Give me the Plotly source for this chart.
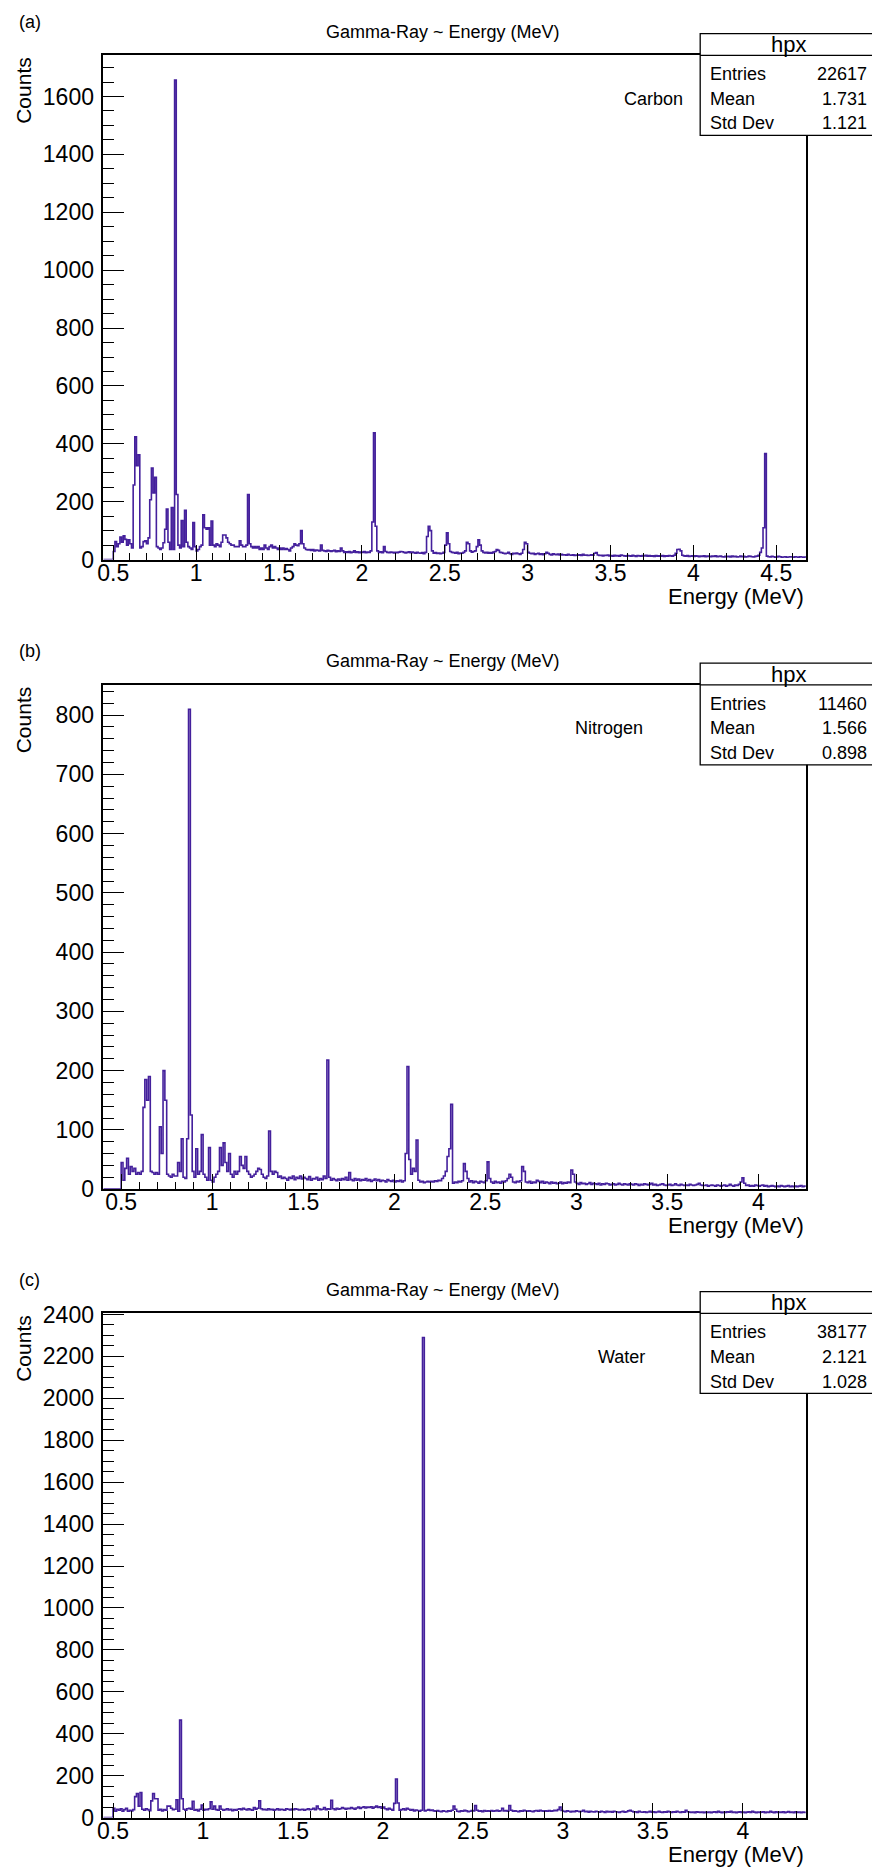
import numpy as np
import plotly.graph_objects as go

# ---------------------------------------------------------------------------
# Gamma-ray spectra, counts per 0.01 MeV bin, first bin starts at 0.50 MeV
# ---------------------------------------------------------------------------
BIN_WIDTH = 0.01
FIRST_EDGE = 0.50

carbon_counts = [
    28, 62, 45, 55, 78, 60, 82, 70, 50, 68,          # 0.50
    55, 40, 258, 424, 324, 362, 40, 45, 62, 65,      # 0.60
    55, 75, 207, 316, 230, 284, 45, 40, 35, 40,      # 0.70
    58, 105, 175, 60, 35, 180, 35, 1657, 225, 50,    # 0.80
    40, 135, 45, 170, 60, 45, 40, 35, 128, 45,       # 0.90
    30, 35, 45, 50, 155, 110, 105, 110, 50, 133,     # 1.00
    50, 45, 55, 50, 45, 60, 85, 85, 75, 60,          # 1.10
    55, 50, 50, 45, 45, 45, 65, 50, 45, 45,          # 1.20
    50, 225, 55, 45, 40, 45, 40, 45, 35, 40,         # 1.30
    35, 50, 40, 35, 45, 50, 40, 45, 40, 35,          # 1.40
    40, 35, 40, 35, 38, 35, 30, 40, 45, 55,          # 1.50
    50, 48, 55, 100, 55, 40, 35, 33, 35, 32,         # 1.60
    35, 30, 33, 32, 30, 50, 32, 30, 28, 32,          # 1.70
    30, 28, 30, 32, 27, 30, 28, 40, 30, 25,          # 1.80
    27, 25, 28, 24, 26, 30, 25, 27, 24, 26,          # 1.90
    25, 28, 24, 26, 25, 30, 130, 438, 115, 30,       # 2.00
    25, 27, 24, 45, 28, 25, 24, 26, 25, 23,          # 2.10
    25, 24, 26, 28, 27, 25, 23, 25, 27, 24,          # 2.20
    26, 24, 22, 25, 23, 22, 24, 20, 25, 80,          # 2.30
    115, 100, 30, 22, 24, 21, 23, 20, 22, 25,        # 2.40
    50, 93, 55, 28, 25, 24, 22, 25, 20, 23,          # 2.50
    22, 25, 30, 60, 55, 30, 26, 28, 30, 45,          # 2.60
    68, 50, 30, 25, 23, 25, 22, 24, 22, 26,          # 2.70
    28, 35, 32, 25, 24, 22, 20, 22, 25, 20,          # 2.80
    18, 22, 20, 23, 20, 18, 22, 35, 60, 55,          # 2.90
    25, 22, 20, 22, 18, 20, 22, 18, 20, 17,          # 3.00
    20, 25, 22, 18, 16, 20, 18, 17, 19, 16,          # 3.10
    18, 16, 17, 15, 18, 16, 15, 17, 14, 16,          # 3.20
    15, 17, 14, 18, 15, 16, 14, 15, 17, 15,          # 3.30
    22, 24, 16, 14, 15, 13, 15, 14, 16, 13,          # 3.40
    14, 12, 15, 13, 14, 12, 16, 14, 13, 12,          # 3.50
    14, 13, 12, 15, 13, 11, 14, 13, 12, 14,          # 3.60
    13, 15, 12, 14, 12, 13, 11, 14, 12, 13,          # 3.70
    12, 14, 11, 13, 12, 14, 13, 12, 15, 22,          # 3.80
    35, 36, 30, 15, 13, 12, 14, 11, 12, 13,          # 3.90
    11, 13, 12, 10, 12, 11, 13, 10, 12, 11,          # 4.00
    10, 12, 11, 13, 10, 11, 12, 10, 9, 11,           # 4.10
    10, 11, 9, 12, 10, 11, 9, 10, 12, 10,            # 4.20
    11, 9, 10, 12, 11, 10, 9, 11, 12, 15,            # 4.30
    25, 40, 110, 366, 12, 10, 9, 11, 10, 8,          # 4.40
    9, 11, 10, 8, 9, 10, 8, 9, 10, 9,                # 4.50
    8, 10, 9, 8, 10, 9, 8, 9,                        # 4.60
]

nitrogen_counts = [
    45, 15, 35, 52, 25, 38, 30, 35, 25, 28,          # 0.50
    25, 30, 138, 185, 150, 190, 30, 28, 25, 28,      # 0.60
    25, 105, 60, 200, 150, 25, 22, 20, 25, 22,       # 0.70
    22, 45, 30, 85, 20, 18, 85, 810, 125, 30,        # 0.80
    20, 68, 25, 30, 92, 25, 20, 15, 70, 15,          # 0.90
    12, 20, 25, 30, 70, 40, 78, 45, 30, 60,          # 1.00
    25, 20, 30, 25, 30, 55, 40, 35, 55, 30,          # 1.10
    25, 20, 22, 25, 30, 35, 33, 25, 20, 18,          # 1.20
    22, 98, 30, 25, 30, 28, 20, 22, 18, 20,          # 1.30
    18, 15, 20, 18, 22, 16, 20, 18, 22, 17,          # 1.40
    20, 18, 16, 21, 15, 18, 17, 20, 15, 18,          # 1.50
    16, 22, 18, 218, 20, 15, 18, 16, 14, 17,         # 1.60
    15, 18, 16, 20, 15, 28, 16, 14, 18, 15,          # 1.70
    17, 14, 16, 15, 18, 14, 16, 13, 15, 17,          # 1.80
    14, 16, 13, 15, 14, 12, 16, 14, 13, 15,          # 1.90
    12, 14, 13, 15, 12, 14, 60, 207, 50, 25,         # 2.00
    35, 30, 83, 15, 12, 13, 11, 12, 13, 12,          # 2.10
    13, 12, 14, 13, 15, 14, 18, 22, 30, 55,          # 2.20
    68, 143, 10, 12, 11, 13, 12, 14, 43, 30,         # 2.30
    18, 12, 14, 11, 13, 12, 10, 13, 12, 11,          # 2.40
    14, 46, 18, 12, 10, 13, 11, 12, 10, 13,          # 2.50
    12, 14, 18, 25, 20, 12, 11, 13, 12, 14,          # 2.60
    38, 30, 12, 11, 13, 10, 12, 11, 15, 13,          # 2.70
    11, 13, 10, 12, 11, 9, 12, 10, 11, 9,            # 2.80
    10, 12, 9, 11, 10, 12, 11, 32, 25, 12,           # 2.90
    10, 8, 11, 9, 10, 8, 9, 11, 8, 10,               # 3.00
    9, 8, 10, 7, 9, 8, 10, 9, 7, 8,                  # 3.10
    9, 7, 8, 10, 8, 7, 9, 8, 7, 9,                   # 3.20
    8, 7, 9, 8, 6, 8, 7, 9, 8, 7,                    # 3.30
    8, 10, 7, 8, 6, 7, 8, 9, 7, 6,                   # 3.40
    7, 8, 6, 7, 9, 7, 6, 8, 7, 6,                    # 3.50
    7, 6, 8, 7, 6, 7, 8, 10, 7, 6,                   # 3.60
    6, 7, 5, 6, 7, 6, 5, 7, 6, 5,                    # 3.70
    6, 7, 5, 6, 8, 6, 5, 7, 6, 8,                    # 3.80
    12, 19, 10, 6, 7, 5, 6, 5, 7, 6,                 # 3.90
    5, 6, 7, 5, 6, 4, 5, 6, 5, 4,                    # 4.00
    5, 4, 6, 5, 4, 5, 6, 4, 5, 4,                    # 4.10
    5, 4, 5, 6, 4, 5,                                # 4.20
]

water_counts = [
    45, 30, 40, 35, 42, 30, 38, 45, 30, 35,          # 0.50
    32, 38, 100, 115, 55, 120, 40, 35, 42, 38,       # 0.60
    33, 80, 115, 90, 90, 35, 40, 32, 38, 35,         # 0.70
    55, 55, 45, 38, 40, 85, 30, 465, 90, 40,         # 0.80
    35, 42, 45, 40, 78, 35, 38, 32, 40, 60,          # 0.90
    35, 40, 38, 42, 75, 40, 55, 38, 35, 55,          # 1.00
    40, 35, 38, 42, 36, 40, 33, 38, 35, 40,          # 1.10
    42, 38, 45, 40, 36, 42, 38, 35, 48, 40,          # 1.20
    45, 80, 42, 38, 40, 36, 42, 38, 40, 35,          # 1.30
    38, 42, 36, 40, 38, 35, 42, 40, 37, 41,          # 1.40
    38, 42, 40, 36, 38, 40, 35, 39, 42, 38,          # 1.50
    40, 45, 38, 55, 42, 38, 40, 48, 38, 42,          # 1.60
    40, 83, 42, 38, 45, 40, 42, 48, 44, 40,          # 1.70
    45, 42, 48, 44, 40, 46, 50, 44, 48, 52,          # 1.80
    46, 50, 48, 52, 45, 50, 55, 48, 52, 45,          # 1.90
    50, 42, 38, 45, 40, 35, 68, 184, 70, 35,         # 2.00
    38, 42, 36, 45, 40, 35, 38, 32, 36, 34,          # 2.10
    30, 35, 2290, 32, 35, 38, 34, 36, 32, 30,        # 2.20
    34, 30, 28, 32, 30, 28, 32, 30, 35, 55,          # 2.30
    40, 30, 28, 32, 30, 35, 32, 28, 30, 34,          # 2.40
    32, 58, 35, 30, 32, 28, 34, 30, 32, 30,          # 2.50
    34, 30, 32, 35, 30, 33, 45, 32, 34, 30,          # 2.60
    58, 35, 30, 32, 30, 28, 32, 30, 35, 32,          # 2.70
    30, 33, 30, 28, 32, 34, 30, 35, 32, 30,          # 2.80
    32, 30, 34, 30, 32, 35, 33, 38, 50, 34,          # 2.90
    30, 28, 32, 30, 27, 30, 28, 32, 30, 28,          # 3.00
    30, 35, 28, 30, 26, 30, 28, 27, 30, 28,          # 3.10
    26, 30, 28, 25, 30, 27, 29, 26, 30, 28,          # 3.20
    27, 25, 28, 30, 26, 28, 32, 35, 30, 27,          # 3.30
    28, 25, 30, 27, 26, 28, 25, 27, 30, 26,          # 3.40
    28, 25, 27, 30, 26, 25, 28, 26, 30, 27,          # 3.50
    25, 28, 26, 30, 27, 25, 28, 26, 35, 28,          # 3.60
    26, 25, 27, 24, 28, 26, 25, 27, 24, 26,          # 3.70
    25, 27, 24, 26, 28, 25, 30, 26, 24, 27,          # 3.80
    25, 28, 26, 30, 25, 27, 24, 26, 28, 25,          # 3.90
    27, 24, 26, 28, 25, 30, 26, 24, 27, 25,          # 4.00
    26, 28, 24, 27, 25, 30, 26, 24, 28, 25,          # 4.10
    27, 25, 28, 24, 26, 29, 25, 27, 24, 28,          # 4.20
    25, 27, 24, 26, 25,                              # 4.30
]

panel_tags = ["(a)", "(b)", "(c)"]
sample_names = ["Carbon", "Nitrogen", "Water"]
entries = ["22617", "11460", "38177"]
means = ["1.731", "1.566", "2.121"]
std_devs = ["1.121", "0.898", "1.028"]

# ---------------------------------------------------------------------------
# Page geometry (pixels)
# ---------------------------------------------------------------------------
W, H = 872, 1876
FRAME_LEFT, FRAME_RIGHT = 98, 806
FRAME_H = 511
frame_tops = [44, 682, 1319]
x_ranges = [(0.44, 4.682), (0.402, 4.264), (0.446, 4.354)]
y_ranges = [(0, 1742), (0, 851), (0, 2405)]
y_major = [200, 100, 200]
y_minor = [50, 20, 50]
name_x = [652, 607, 620]

LINE_COLOR = "#44209c"
FONT = "Liberation Sans, Arial, Helvetica, sans-serif"


def px(xpix):
    return xpix / W


def py(ypix):
    return 1 - ypix / H


spectra = [carbon_counts, nitrogen_counts, water_counts]

fig = go.Figure()
shapes = []
annotations = []

for i, counts in enumerate(spectra):
    n = len(counts)
    edges = np.round(FIRST_EDGE + BIN_WIDTH * np.arange(n + 1), 4)
    xs = [x_ranges[i][0]] + list(edges[:n]) + [edges[n]]
    ys = [0] + list(counts) + [counts[-1]]
    suffix = "" if i == 0 else str(i + 1)
    fig.add_trace(go.Scatter(
        x=xs, y=ys, mode="lines",
        line=dict(color=LINE_COLOR, width=1.6, shape="hv"),
        xaxis="x" + suffix, yaxis="y" + suffix,
        showlegend=False, hoverinfo="skip",
    ))

    top = frame_tops[i]
    bottom = top + FRAME_H
    common = dict(
        showline=True, linecolor="black", linewidth=1.5, mirror=True,
        ticks="inside", tickcolor="black", tickwidth=1.3,
        showgrid=False, zeroline=False,
        tickfont=dict(family=FONT, size=23, color="black"),
    )
    fig.update_layout(**{
        "xaxis" + suffix: dict(
            common, domain=[px(FRAME_LEFT), px(FRAME_RIGHT)],
            anchor="y" + suffix, range=list(x_ranges[i]),
            tick0=0.5, dtick=0.5, ticklen=15,
            minor=dict(ticks="inside", tick0=0.5, dtick=0.1, ticklen=7,
                       tickcolor="black", tickwidth=1.2),
            ticklabelstandoff=-8,
        ),
        "yaxis" + suffix: dict(
            common, domain=[py(bottom), py(top)],
            anchor="x" + suffix, range=list(y_ranges[i]),
            tick0=0, dtick=y_major[i], ticklen=21,
            minor=dict(ticks="inside", tick0=0, dtick=y_minor[i], ticklen=11,
                       tickcolor="black", tickwidth=1.2),
            ticklabelstandoff=3,
        ),
    })

    # statistics box
    box_left, box_right = 699, 880
    shapes.append(dict(type="rect", xref="paper", yref="paper", layer="above",
                       x0=px(box_left), x1=px(box_right),
                       y0=py(top + 81), y1=py(top - 22),
                       line=dict(color="black", width=1.3), fillcolor="white"))
    shapes.append(dict(type="line", xref="paper", yref="paper", layer="above",
                       x0=px(box_left), x1=px(box_right), y0=py(top), y1=py(top),
                       line=dict(color="black", width=1.3)))
    annotations.append(dict(text="hpx", x=px(788), y=py(top - 11),
                            font=dict(size=22)))
    for row, (label, value) in enumerate(zip(["Entries", "Mean", "Std Dev"],
                                             [entries[i], means[i], std_devs[i]])):
        yrow = py(top + 19 + 25 * row)
        annotations.append(dict(text=label, x=px(707), y=yrow,
                                xanchor="left", font=dict(size=18)))
        annotations.append(dict(text=value, x=px(869), y=yrow,
                                xanchor="right", font=dict(size=18)))

    # titles and labels
    annotations.append(dict(text="Gamma-Ray ~ Energy (MeV)", x=px(440),
                            y=py(top - 24), font=dict(size=18)))
    annotations.append(dict(text=panel_tags[i], x=px(24), y=py(top - 34),
                            font=dict(size=18)))
    annotations.append(dict(text=sample_names[i], x=px(name_x[i]),
                            y=py(top + 44), font=dict(size=18)))
    annotations.append(dict(text="Energy (MeV)", x=px(FRAME_RIGHT),
                            y=py(bottom + 37), xanchor="right",
                            font=dict(size=22)))
    annotations.append(dict(text="Counts", textangle=-90, x=px(18),
                            y=py(top - 1), yanchor="top",
                            font=dict(size=21)))

for a in annotations:
    a.setdefault("xref", "paper")
    a.setdefault("yref", "paper")
    a.setdefault("showarrow", False)
    a.setdefault("xanchor", "center")
    a.setdefault("yanchor", "middle")
    a["font"] = dict(family=FONT, color="black", **a["font"])

fig.update_layout(
    width=W, height=H,
    margin=dict(l=0, r=0, t=0, b=0),
    paper_bgcolor="white", plot_bgcolor="white",
    shapes=shapes, annotations=annotations,
)

fig.write_html("out.html")
